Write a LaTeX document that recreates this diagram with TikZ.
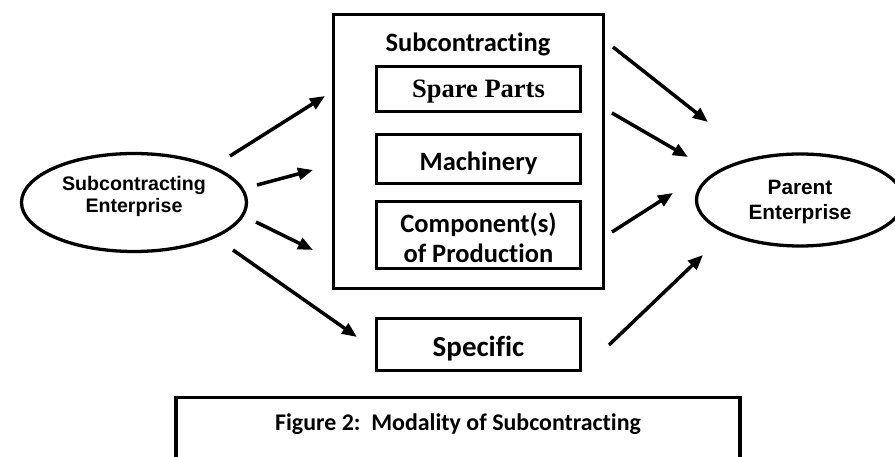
\documentclass[tikz,border=0pt]{standalone}
\usepackage{fontspec}
\usetikzlibrary{shapes.geometric,arrows.meta}
\newfontfamily\arialfont{Liberation Sans}
\newfontfamily\calfont{Carlito}[Ligatures=NoCommon]
\newfontfamily\timesfont{Liberation Serif}
\begin{document}
\begin{tikzpicture}[x=1pt,y=-1pt,line width=3.3pt,
  oval/.style={ellipse,draw,inner sep=0pt},
  box/.style={draw,rectangle,inner sep=0pt},
  txt/.style={inner sep=0pt,align=center},
  cal/.style={font=\calfont\bfseries\fontsize{26.5}{30}\selectfont},
  arr/.style={-{Triangle[length=15pt,width=12pt]},line width=3.5pt}]
\useasboundingbox (0,0) rectangle (895,457);
\clip (0,0) rectangle (895,457);

% enterprises
\node[oval,minimum width=225pt,minimum height=98pt] (se) at (134,202.5) {};
\node[txt,font=\arialfont\bfseries\fontsize{19.6}{22}\selectfont]
  (setext) at ([yshift=6pt]se.center) {Subcontracting\\Enterprise};
\node[oval,minimum width=207pt,minimum height=92pt] (pe) at (800,200) {};
\node[txt,font=\arialfont\bfseries\fontsize{20.8}{25}\selectfont]
  (petext) at ([yshift=-2pt]pe.center) {Parent\\Enterprise};

% subcontracting frame and its modalities
\node[box,minimum width=270pt,minimum height=274pt] (sub) at (468.5,151.5) {};
\node[txt,cal] (title) at (468,44) {Subcontracting};
\node[box,minimum width=204pt,minimum height=45pt] (spare) at (478.5,89) {};
\node[txt,font=\timesfont\bfseries\fontsize{26.5}{30}\selectfont]
  (sparetext) at ([yshift=-3pt]spare.center) {Spare Parts};
\node[box,minimum width=204pt,minimum height=49pt] (mach) at (478.5,159) {};
\node[txt,cal] (machtext) at ([yshift=-4pt]mach.center) {Machinery};
\node[box,minimum width=204pt,minimum height=67pt] (comp) at (478.5,235) {};
\node[txt,cal] (comptext) at ([yshift=-3pt]comp.center) {Component(s)\\of Production};
\node[box,minimum width=204pt,minimum height=52pt] (spec) at (478.5,344.5) {};
\node[txt,font=\calfont\bfseries\fontsize{29}{34}\selectfont]
  (spectext) at ([yshift=-4pt]spec.center) {Specific};

% caption frame, open at the bottom
\draw (176,470) -- (176,397.5) coordinate (capnw) -- (740,397.5) coordinate (capne) -- (740,470);
\node[txt,font=\calfont\bfseries\fontsize{23.9}{28}\selectfont]
  (cap) at (458,424) {Figure 2:\ \ Modality of Subcontracting};

% arrow end points
\coordinate (l1a) at (230,156);  \coordinate (l1b) at (325,96);
\coordinate (l2a) at (257,185);  \coordinate (l2b) at (313,170);
\coordinate (l3a) at (256,222);  \coordinate (l3b) at (313,250);
\coordinate (l4a) at (233,250);  \coordinate (l4b) at (357,337);
\coordinate (r1a) at (613,47);   \coordinate (r1b) at (708,122);
\coordinate (r2a) at (612,113);  \coordinate (r2b) at (688,157);
\coordinate (r3a) at (612,232);  \coordinate (r3b) at (673,193);
\coordinate (r4a) at (609,345);  \coordinate (r4b) at (703,255);

\foreach \s/\t in {l1a/l1b,l2a/l2b,l3a/l3b,l4a/l4b,r1a/r1b,r2a/r2b,r3a/r3b,r4a/r4b}
  \draw[arr] (\s) -- (\t);
\end{tikzpicture}
\end{document}
